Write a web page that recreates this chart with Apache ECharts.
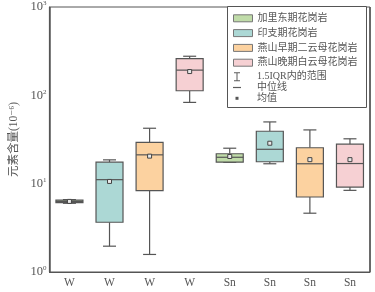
<!DOCTYPE html>
<html><head><meta charset="utf-8">
<script src="https://cdn.jsdelivr.net/npm/echarts@6/dist/echarts.min.js"></script>
<style>html,body{margin:0;padding:0;background:#fff}#c{width:375px;height:292px}</style>
</head><body><div id="c"></div>
<script>
// ---- data ----
const categories = ['W','W','W','W','Sn','Sn','Sn','Sn'];
const groupNames = ['加里东期花岗岩','印支期花岗岩','燕山早期二云母花岗岩','燕山晚期白云母花岗岩'];
const groupColors = ['#c0dca9','#acd8d5','#fcd2a0','#f6d0d3'];
// [min, Q1, median, Q3, max]
const wBoxes = [[6.0,6.1,6.3,6.5,6.6],[1.96,3.66,11.1,17.5,18.6],[1.58,8.34,21.2,29.4,42.4],[83.2,112.7,192.9,260.7,277]];
const snBoxes = [[17.4,17.5,19.9,21.8,25.2],[16.8,17.7,24.5,39.2,50],[4.63,7.06,16.8,25.5,40.6],[8.4,9.16,16.9,28.0,32.2]];
const wMeans = [6.3,10.6,20.5,185.9];
const snMeans = [20.3,28.7,18.7,18.7];
const yMin = 1, yMax = 1000;
const extraLegend = ['1.5IQR内的范围','中位线','均值'];

const serif = "'Liberation Serif','DejaVu Serif','Noto Sans CJK SC',serif";
const txt = '#555';
const lineCol = '#555';

function renderBox(params, api){
  const x = api.value(0);
  const c = v => api.coord([x, v]);
  const pMin=c(api.value(1)), pQ1=c(api.value(2)), pMed=c(api.value(3)), pQ3=c(api.value(4)), pMax=c(api.value(5));
  const bw = 27, cw = 13;
  const cx = pMed[0];
  const ls = {stroke:lineCol, lineWidth:1.2};
  return {type:'group', children:[
    {type:'line', shape:{x1:cx,y1:pMax[1],x2:cx,y2:pQ3[1]}, style:ls},
    {type:'line', shape:{x1:cx,y1:pQ1[1],x2:cx,y2:pMin[1]}, style:ls},
    {type:'line', shape:{x1:cx-cw/2,y1:pMax[1],x2:cx+cw/2,y2:pMax[1]}, style:ls},
    {type:'line', shape:{x1:cx-cw/2,y1:pMin[1],x2:cx+cw/2,y2:pMin[1]}, style:ls},
    {type:'rect', shape:{x:cx-bw/2,y:pQ3[1],width:bw,height:pQ1[1]-pQ3[1]}, style:{fill:api.visual('color'), stroke:lineCol, lineWidth:1.2}},
    {type:'line', shape:{x1:cx-bw/2,y1:pMed[1],x2:cx+bw/2,y2:pMed[1]}, style:ls}
  ]};
}

const series = groupNames.map((n,i)=>({
  name:n, type:'custom', renderItem:renderBox,
  itemStyle:{color:groupColors[i]},
  encode:{x:0, y:[1,2,3,4,5]},
  data:[[i].concat(wBoxes[i]), [4+i].concat(snBoxes[i])]
}));
series.push({name:extraLegend[0], type:'scatter', data:[]});
series.push({name:extraLegend[1], type:'scatter', data:[]});
series.push({
  name:extraLegend[2], type:'scatter', symbol:'rect', symbolSize:4, z:5,
  itemStyle:{color:'#e8e8e8', borderColor:'#444', borderWidth:1, opacity:1},
  data: wMeans.map((v,i)=>[i,v]).concat(snMeans.map((v,i)=>[4+i,v]))
});

const chart = echarts.init(document.getElementById('c'), null, {renderer:'canvas'});
chart.setOption({
  animation:false,
  backgroundColor:'#fff',
  grid:{left:42, right:5, top:6, bottom:20, show:true, borderColor:lineCol, borderWidth:1},
  xAxis:{
    type:'category', data:categories, boundaryGap:true,
    axisLine:{lineStyle:{color:lineCol, width:1}},
    axisTick:{inside:true, length:4, alignWithLabel:true, lineStyle:{color:lineCol}},
    axisLabel:{color:txt, fontFamily:serif, fontSize:11.5, margin:5, interval:0},
    splitLine:{show:true, interval:(idx)=>idx===4, lineStyle:{color:lineCol, width:1.5}}
  },
  yAxis:{
    type:'log', logBase:10, min:yMin, max:yMax,
    name:'元素含量(10⁻⁶)', nameLocation:'middle', nameGap:25, nameRotate:90,
    nameTextStyle:{color:txt, fontFamily:serif, fontSize:11.5},
    axisLine:{show:true, lineStyle:{color:lineCol, width:1}},
    axisTick:{inside:true, length:4, lineStyle:{color:lineCol}},
    minorTick:{show:false},
    splitLine:{show:false},
    axisLabel:{
      margin:3, color:txt, fontFamily:serif,
      formatter:v=>'{b|10}{s|'+Math.round(Math.log10(v))+'}',
      rich:{b:{fontSize:12.5, fontFamily:serif, color:txt, lineHeight:14}, s:{fontSize:7, fontFamily:serif, color:txt, verticalAlign:'top', lineHeight:14, padding:[0,0,6,0]}}
    }
  },
  graphic:[{type:'rect', left:227, top:6, z:3, shape:{width:139, height:101}, style:{fill:'#fff', stroke:lineCol, lineWidth:1}}],
  legend:[
    {orient:'vertical', left:233, top:13.3, padding:0, itemWidth:19, itemHeight:10, itemGap:4.8, selectedMode:false, z:5,
     textStyle:{fontSize:10, lineHeight:10, color:txt, fontFamily:serif},
     data: groupNames.map((n,i)=>({name:n, icon:'path://M0,0H19V7H0Z', itemStyle:{color:groupColors[i], borderColor:'#777', borderWidth:1}}))},
    {orient:'vertical', left:233, top:71.7, padding:0, itemWidth:19, itemHeight:10, itemGap:0.8, selectedMode:false, z:5,
     textStyle:{fontSize:10, lineHeight:10, color:txt, fontFamily:serif},
     data:[
       {name:extraLegend[0], icon:'path://M0,0M19,10M1,0.5H7V1.5H4.5V8.5H7V9.5H1V8.5H3.5V1.5H1Z', itemStyle:{color:'#333', borderWidth:0}},
       {name:extraLegend[1], icon:'path://M0,0M19,10M0,4.4H8V5.6H0Z', itemStyle:{color:'#333', borderWidth:0}},
       {name:extraLegend[2], icon:'path://M0,0M19,10M2.5,3.5H5.5V6.5H2.5Z', itemStyle:{color:'#555', borderWidth:0}}
     ]}
  ],
  series: series
});
</script></body></html>
